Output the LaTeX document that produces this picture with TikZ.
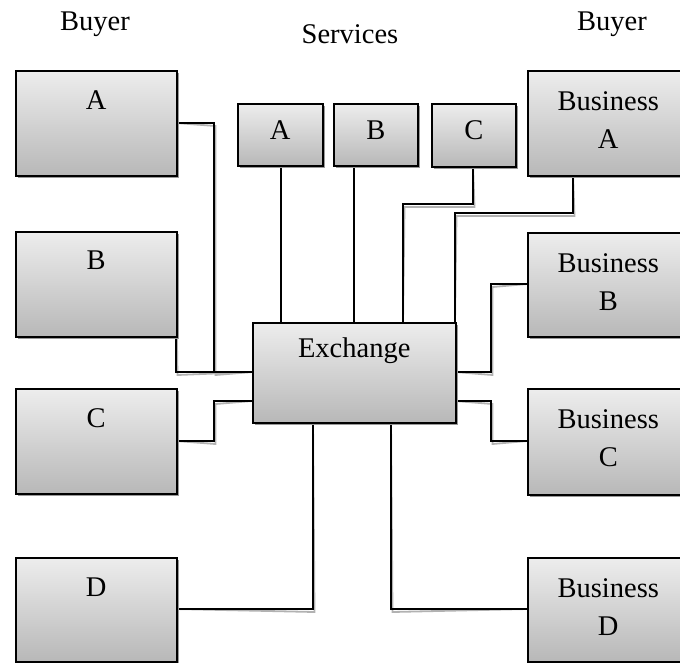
\documentclass[tikz,border=0pt]{standalone}
\usepackage{fontspec}
\setmainfont{Liberation Serif}
\usetikzlibrary{shadows,calc}
\tikzset{
  box/.style={draw=black, line width=1.5pt, anchor=north west, inner sep=0pt,
    top color=black!7, bottom color=black!28,
    general shadow={fill=black!40, shadow xshift=2pt, shadow yshift=-2.5pt}},
  wire/.style={draw=black, line width=1.5pt},
  wireshadow/.style={draw=black!30, line width=1.8pt, xshift=1.5pt, yshift=-3pt},
  lbl/.style={anchor=base, font=\fontsize{28.5}{34}\selectfont, inner sep=0pt},
}
\newcommand\wirepath[1]{\draw[wireshadow] #1; \draw[wire] #1;}
\begin{document}
\begin{tikzpicture}[x=1pt,y=-1pt]
\useasboundingbox (0,0) rectangle (680,662);
\clip (0,0) rectangle (680,662);
% titles
\node[lbl] (t1) at (95,30) {Buyer};
\node[lbl] (t2) at (350,43) {Services};
\node[lbl] (t3) at (612,30) {Buyer};
% connection points
\coordinate (exL1) at (252,372);
\coordinate (exL2) at (252,401);
\coordinate (exR1) at (455,372);
\coordinate (exR2) at (455,401);
\coordinate (exT1) at (281,322);
\coordinate (exT2) at (354,322);
\coordinate (exT3) at (403,322);
\coordinate (exT4) at (455,322);
\coordinate (exB1) at (313,422);
\coordinate (exB2) at (391,422);
\coordinate (bAr) at (176,123);
\coordinate (bBr) at (176,284);
\coordinate (bCr) at (176,441);
\coordinate (bDr) at (176,609);
\coordinate (sAb) at (573,175);
\coordinate (sBl) at (527,284);
\coordinate (sCl) at (527,441);
\coordinate (sDl) at (527,609);
\coordinate (svAb) at (281,165);
\coordinate (svBb) at (354,165);
\coordinate (svCb) at (473,166);
% wires (drawn first, boxes on top)
\wirepath{(bAr) -- (214,123) -- (214,372) -- (exL1)}
\wirepath{(bBr) -- (176,372) -- (exL1)}
\wirepath{(bCr) -- (214,441) -- (214,401) -- (exL2)}
\wirepath{(bDr) -- (313,609) -- (exB1)}
\wirepath{(svAb) -- (exT1)}
\wirepath{(svBb) -- (exT2)}
\wirepath{(svCb) -- (473,204) -- (403,204) -- (exT3)}
\wirepath{(sAb) -- (573,213) -- (455,213) -- (exT4)}
\wirepath{(exR1) -- (491,372) -- (491,284) -- (sBl)}
\wirepath{(exR2) -- (491,401) -- (491,441) -- (sCl)}
\wirepath{(exB2) -- (391,609) -- (sDl)}
% boxes
\node[box, minimum width=161pt, minimum height=105pt] (bA) at (15,70) {};
\node[box, minimum width=161pt, minimum height=105pt] (bB) at (15,231) {};
\node[box, minimum width=161pt, minimum height=105pt] (bC) at (15,388) {};
\node[box, minimum width=161pt, minimum height=104pt] (bD) at (15,557) {};
\node[box, minimum width=161pt, minimum height=105pt] (sA) at (527,70) {};
\node[box, minimum width=161pt, minimum height=104pt] (sB) at (527,232) {};
\node[box, minimum width=161pt, minimum height=106pt] (sC) at (527,388) {};
\node[box, minimum width=161pt, minimum height=104pt] (sD) at (527,557) {};
\node[box, minimum width=85pt, minimum height=62pt] (svA) at (237,103) {};
\node[box, minimum width=84pt, minimum height=62pt] (svB) at (333,103) {};
\node[box, minimum width=84pt, minimum height=63pt] (svC) at (431,103) {};
\node[box, minimum width=203pt, minimum height=100pt] (ex) at (252,322) {};
% labels
\node[lbl] at ($(bA.north)+(0,39)$) {A};
\node[lbl] at ($(bB.north)+(0,38)$) {B};
\node[lbl] at ($(bC.north)+(0,39)$) {C};
\node[lbl] at ($(bD.north)+(0,39)$) {D};
\node[lbl] at ($(sA.north)+(0,40)$) {Business};
\node[lbl] at ($(sA.north)+(0,78)$) {A};
\node[lbl] at ($(sB.north)+(0,40)$) {Business};
\node[lbl] at ($(sB.north)+(0,78)$) {B};
\node[lbl] at ($(sC.north)+(0,40)$) {Business};
\node[lbl] at ($(sC.north)+(0,78)$) {C};
\node[lbl] at ($(sD.north)+(0,40)$) {Business};
\node[lbl] at ($(sD.north)+(0,78)$) {D};
\node[lbl] at ($(svA.north)+(0,36)$) {A};
\node[lbl] at ($(svB.north)+(0,36)$) {B};
\node[lbl] at ($(svC.north)+(0,36)$) {C};
\node[lbl] at ($(ex.north)+(0,35)$) {Exchange};
\end{tikzpicture}
\end{document}
